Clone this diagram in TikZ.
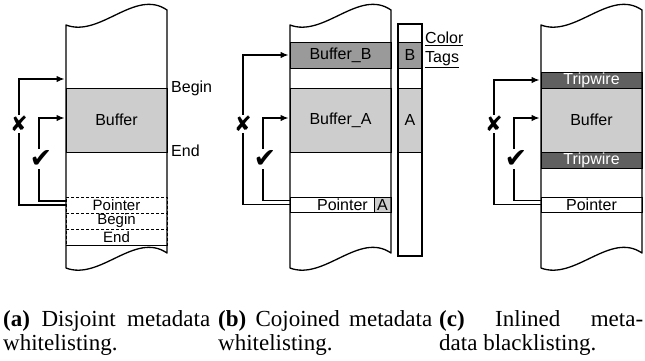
\documentclass[tikz,border=0pt]{standalone}
\usepackage{fontspec}
\setmainfont{Liberation Serif}
\setsansfont{Liberation Sans}
\newfontfamily\markfont{DejaVu Sans}
\usetikzlibrary{arrows.meta}
\definecolor{lightbuf}{HTML}{CDCDCD}
\definecolor{darkbuf}{HTML}{9A9A9A}
\definecolor{tripgray}{HTML}{606060}
\newcommand\cellfont{\sffamily\fontsize{16}{16}\selectfont}
\newcommand\smallcellfont{\sffamily\fontsize{15}{15}\selectfont}
\newcommand\capfont{\rmfamily\fontsize{23}{25}\selectfont}
\newcommand\memwalls{%
  \draw[wall] (66,268) -- (66,25) .. controls (100,38) and (135,-12) .. (167,10)
     -- (167,253) .. controls (135,231) and (100,281) .. (66,268) -- cycle;
}
\begin{document}
\begin{tikzpicture}[x=1pt,y=-1pt,
  wall/.style={line width=1.3pt, line join=round},
  cell/.style={draw, line width=0.9pt, inner sep=0pt, outer sep=0pt,
     minimum width=101pt, font=\cellfont},
  dashcell/.style={cell, dash pattern=on 3pt off 2pt, font=\smallcellfont},
  lab/.style={inner sep=0pt, font=\cellfont},
  conn/.style={line width=1.2pt, -{Latex[length=8pt,width=6.5pt]}, shorten >=1.5pt},
  xmk/.style={fill=white, inner sep=1.5pt, font=\markfont\fontsize{21}{21}\selectfont},
  ckmk/.style={fill=white, inner sep=1.5pt, font=\markfont\fontsize{27}{27}\selectfont},
  captext/.style={inner sep=0pt, font=\capfont}]
\useasboundingbox (0,0) rectangle (645,360);

% ---------- panel (a)
\begin{scope}
  \node[cell, fill=lightbuf, minimum height=64pt] (a-buf) at (116.5,120) {Buffer};
  \node[lab, anchor=west] (a-beg) at (171,88) {Begin};
  \node[lab, anchor=west] (a-end) at (171,151) {End};
  \node[dashcell, minimum height=16pt] (a-ptr) at (116.5,205) {Pointer};
  \node[dashcell, minimum height=16pt] (a-mb) at (116.5,221) {Begin};
  \node[dashcell, minimum height=16pt] (a-me) at (116.5,237) {End};
  \draw[line width=0.9pt] (a-me.south west) -- (a-me.south east);
  \memwalls
  \coordinate (a-top) at (66,79);
  \draw[conn] (a-ptr.west) -- ++(-47,0) |- (a-top);
  \draw[conn] ([yshift=4pt]a-ptr.west) -- ++(-27,0) |- ([yshift=2pt]a-buf.west);
  \node[xmk] (a-x) at (19,124) {✘};
  \node[ckmk] (a-ck) at (41,159) {✔};
\end{scope}

% ---------- panel (b)
\begin{scope}[xshift=224pt]
  \node[cell, fill=darkbuf, minimum height=26pt] (b-bufb) at (116.5,55) {Buffer\_B};
  \node[cell, fill=lightbuf, minimum height=64pt] (b-bufa) at (116.5,120) {Buffer\_A};
  \node[cell, minimum height=15pt] (b-ptr) at (116.5,204.5) {};
  \node[cell, fill=lightbuf, minimum width=17pt, minimum height=15pt, anchor=east] (b-ptag) at (b-ptr.east) {A};
  \node[lab, anchor=east] (b-ptxt) at (144,204.5) {Pointer};
  \memwalls
  \node[cell, fill=darkbuf, minimum width=24pt, minimum height=26pt] (b-tagb) at (186,55) {B};
  \node[cell, fill=lightbuf, minimum width=24pt, minimum height=64pt] (b-taga) at (186,120) {A};
  \node[draw, line width=1.1pt, minimum width=24pt, minimum height=232pt, inner sep=0pt, outer sep=0pt] (b-tags) at (186,140) {};
  \node[lab, anchor=west] (b-color) at (201,39) {\underline{Color}};
  \node[lab, anchor=west] (b-tagl) at (201,60) {\underline{Tags}};
  \draw[conn] (b-ptr.west) -- ++(-47,0) |- (b-bufb.west);
  \draw[conn] ([yshift=4pt]b-ptr.west) -- ++(-27,0) |- ([yshift=2pt]b-bufa.west);
  \node[xmk] (b-x) at (19,124) {✘};
  \node[ckmk] (b-ck) at (41,159) {✔};
\end{scope}

% ---------- panel (c)
\begin{scope}[xshift=475pt]
  \node[cell, fill=tripgray, text=white, minimum height=16pt] (c-tw1) at (116.5,80) {Tripwire};
  \node[cell, fill=lightbuf, minimum height=64pt] (c-buf) at (116.5,120) {Buffer};
  \node[cell, fill=tripgray, text=white, minimum height=16pt] (c-tw2) at (116.5,160) {Tripwire};
  \node[cell, minimum height=15pt] (c-ptr) at (116.5,204.5) {Pointer};
  \memwalls
  \draw[conn] (c-ptr.west) -- ++(-47,0) |- (c-tw1.west);
  \draw[conn] ([yshift=4pt]c-ptr.west) -- ++(-27,0) |- ([yshift=2pt]c-buf.west);
  \node[xmk] (c-x) at (19,124) {✘};
  \node[ckmk] (c-ck) at (41,159) {✔};
\end{scope}

% ---------- captions
\node[captext, anchor=base west] (cap-a1) at (3,326) {\makebox[207pt][s]{\textbf{(a)} Disjoint metadata}};
\node[captext, anchor=base west] (cap-a2) at (3,350) {whitelisting.};
\node[captext, anchor=base west] (cap-b1) at (218,326) {\makebox[214pt][s]{\textbf{(b)} Cojoined metadata}};
\node[captext, anchor=base west] (cap-b2) at (218,350) {whitelisting.};
\node[captext, anchor=base west] (cap-c1) at (439,326) {\makebox[204pt][s]{\textbf{(c)} Inlined meta-}};
\node[captext, anchor=base west] (cap-c2) at (439,350) {data blacklisting.};
\end{tikzpicture}
\end{document}
